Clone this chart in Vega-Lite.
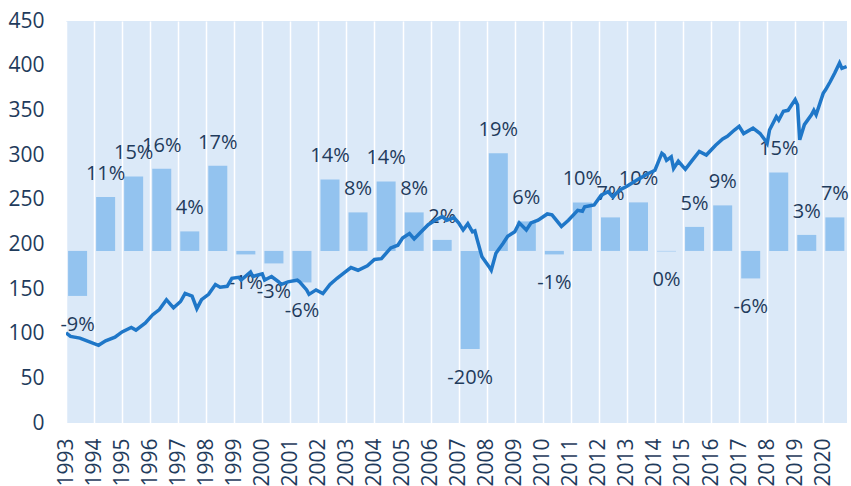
{
  "$schema": "https://vega.github.io/schema/vega-lite/v6.json",
  "autosize": {"type": "none"},
  "padding": {"left": 66, "top": 21, "right": 4, "bottom": 63},
  "width": 781,
  "height": 402,
  "background": "#ffffff",
  "config": {
    "view": {"fill": "#dbe9f8", "stroke": null},
    "axis": {"labelFont": "Open Sans", "labelFontSize": 21, "labelColor": "#1f3b5c", "domain": false, "ticks": false, "title": null},
    "text": {"font": "Open Sans", "fontSize": 20, "color": "#1f3b5c"}
  },
  "datasets": {
    "index": [
      {"date": "1993-01-01", "value": 101},
      {"date": "1993-03-01", "value": 97},
      {"date": "1993-07-01", "value": 95},
      {"date": "1993-10-01", "value": 92},
      {"date": "1994-03-01", "value": 87},
      {"date": "1994-06-01", "value": 92},
      {"date": "1994-10-01", "value": 96},
      {"date": "1995-01-01", "value": 102},
      {"date": "1995-05-01", "value": 107},
      {"date": "1995-07-01", "value": 104},
      {"date": "1995-11-01", "value": 112},
      {"date": "1996-02-01", "value": 121},
      {"date": "1996-05-01", "value": 127},
      {"date": "1996-08-01", "value": 138},
      {"date": "1996-10-01", "value": 132},
      {"date": "1996-11-01", "value": 129},
      {"date": "1997-02-01", "value": 136},
      {"date": "1997-04-01", "value": 145},
      {"date": "1997-07-01", "value": 142},
      {"date": "1997-09-01", "value": 128},
      {"date": "1997-11-01", "value": 138},
      {"date": "1998-02-01", "value": 144},
      {"date": "1998-05-01", "value": 155},
      {"date": "1998-07-01", "value": 152},
      {"date": "1998-10-01", "value": 153},
      {"date": "1998-12-01", "value": 162},
      {"date": "1999-03-01", "value": 163},
      {"date": "1999-04-01", "value": 160},
      {"date": "1999-08-01", "value": 169},
      {"date": "1999-09-01", "value": 164},
      {"date": "2000-01-01", "value": 167},
      {"date": "2000-02-01", "value": 160},
      {"date": "2000-05-01", "value": 164},
      {"date": "2000-08-01", "value": 158},
      {"date": "2000-09-01", "value": 155},
      {"date": "2000-12-01", "value": 158},
      {"date": "2001-04-01", "value": 160},
      {"date": "2001-05-01", "value": 158},
      {"date": "2001-08-01", "value": 149},
      {"date": "2001-09-01", "value": 144},
      {"date": "2001-12-01", "value": 149},
      {"date": "2002-03-01", "value": 145},
      {"date": "2002-06-01", "value": 155},
      {"date": "2002-09-01", "value": 162},
      {"date": "2002-12-01", "value": 168},
      {"date": "2003-03-01", "value": 174},
      {"date": "2003-06-01", "value": 171},
      {"date": "2003-10-01", "value": 176},
      {"date": "2004-01-01", "value": 183},
      {"date": "2004-04-01", "value": 184},
      {"date": "2004-08-01", "value": 196},
      {"date": "2004-11-01", "value": 199},
      {"date": "2005-01-01", "value": 207},
      {"date": "2005-04-01", "value": 212},
      {"date": "2005-06-01", "value": 206},
      {"date": "2005-09-01", "value": 214},
      {"date": "2005-12-01", "value": 222},
      {"date": "2006-03-01", "value": 227},
      {"date": "2006-06-01", "value": 231},
      {"date": "2006-08-01", "value": 227},
      {"date": "2006-11-01", "value": 230},
      {"date": "2007-01-01", "value": 224},
      {"date": "2007-03-01", "value": 216},
      {"date": "2007-05-01", "value": 223},
      {"date": "2007-07-01", "value": 214},
      {"date": "2007-08-01", "value": 215},
      {"date": "2007-09-01", "value": 205},
      {"date": "2007-11-01", "value": 186},
      {"date": "2008-02-01", "value": 175},
      {"date": "2008-03-01", "value": 171},
      {"date": "2008-05-01", "value": 190},
      {"date": "2008-08-01", "value": 201},
      {"date": "2008-10-01", "value": 209},
      {"date": "2009-01-01", "value": 214},
      {"date": "2009-03-01", "value": 224},
      {"date": "2009-06-01", "value": 216},
      {"date": "2009-08-01", "value": 224},
      {"date": "2009-11-01", "value": 227},
      {"date": "2010-03-01", "value": 234},
      {"date": "2010-05-01", "value": 233},
      {"date": "2010-09-01", "value": 220},
      {"date": "2010-12-01", "value": 227},
      {"date": "2011-04-01", "value": 238},
      {"date": "2011-06-01", "value": 237},
      {"date": "2011-07-01", "value": 242},
      {"date": "2011-11-01", "value": 244},
      {"date": "2012-02-01", "value": 255},
      {"date": "2012-05-01", "value": 259},
      {"date": "2012-07-01", "value": 253},
      {"date": "2012-10-01", "value": 261},
      {"date": "2013-01-01", "value": 265},
      {"date": "2013-06-01", "value": 273},
      {"date": "2013-10-01", "value": 279},
      {"date": "2014-01-01", "value": 283},
      {"date": "2014-04-01", "value": 302},
      {"date": "2014-05-01", "value": 300},
      {"date": "2014-06-01", "value": 294},
      {"date": "2014-08-01", "value": 298},
      {"date": "2014-09-01", "value": 285},
      {"date": "2014-11-01", "value": 293},
      {"date": "2015-02-01", "value": 284},
      {"date": "2015-05-01", "value": 294},
      {"date": "2015-08-01", "value": 304},
      {"date": "2015-11-01", "value": 300},
      {"date": "2016-03-01", "value": 311},
      {"date": "2016-06-01", "value": 318},
      {"date": "2016-08-01", "value": 321},
      {"date": "2016-11-01", "value": 328},
      {"date": "2017-01-01", "value": 332},
      {"date": "2017-03-01", "value": 324},
      {"date": "2017-07-01", "value": 330},
      {"date": "2017-10-01", "value": 324},
      {"date": "2017-12-01", "value": 317},
      {"date": "2018-01-01", "value": 313},
      {"date": "2018-02-01", "value": 328},
      {"date": "2018-05-01", "value": 343},
      {"date": "2018-06-01", "value": 339},
      {"date": "2018-08-01", "value": 349},
      {"date": "2018-10-01", "value": 350},
      {"date": "2019-01-01", "value": 362},
      {"date": "2019-02-01", "value": 356},
      {"date": "2019-03-01", "value": 317},
      {"date": "2019-05-01", "value": 334},
      {"date": "2019-08-01", "value": 345},
      {"date": "2019-09-01", "value": 350},
      {"date": "2019-10-01", "value": 345},
      {"date": "2020-01-01", "value": 369},
      {"date": "2020-02-01", "value": 373},
      {"date": "2020-04-01", "value": 382},
      {"date": "2020-06-01", "value": 392},
      {"date": "2020-08-01", "value": 403},
      {"date": "2020-09-01", "value": 397},
      {"date": "2020-11-01", "value": 399}
    ],
    "returns": [
      {"date": "1993-06-01", "ret": -0.090, "label": "-9%"},
      {"date": "1994-06-01", "ret": 0.108, "label": "11%"},
      {"date": "1995-06-01", "ret": 0.149, "label": "15%"},
      {"date": "1996-06-01", "ret": 0.164, "label": "16%"},
      {"date": "1997-06-01", "ret": 0.039, "label": "4%"},
      {"date": "1998-06-01", "ret": 0.170, "label": "17%"},
      {"date": "1999-06-01", "ret": -0.007, "label": "-1%"},
      {"date": "2000-06-01", "ret": -0.025, "label": "-3%"},
      {"date": "2001-06-01", "ret": -0.063, "label": "-6%"},
      {"date": "2002-06-01", "ret": 0.143, "label": "14%"},
      {"date": "2003-06-01", "ret": 0.077, "label": "8%"},
      {"date": "2004-06-01", "ret": 0.139, "label": "14%"},
      {"date": "2005-06-01", "ret": 0.077, "label": "8%"},
      {"date": "2006-06-01", "ret": 0.022, "label": "2%"},
      {"date": "2007-06-01", "ret": -0.196, "label": "-20%"},
      {"date": "2008-06-01", "ret": 0.195, "label": "19%"},
      {"date": "2009-06-01", "ret": 0.059, "label": "6%"},
      {"date": "2010-06-01", "ret": -0.007, "label": "-1%"},
      {"date": "2011-06-01", "ret": 0.097, "label": "10%"},
      {"date": "2012-06-01", "ret": 0.067, "label": "7%"},
      {"date": "2013-06-01", "ret": 0.097, "label": "10%"},
      {"date": "2014-06-01", "ret": -0.001, "label": "0%"},
      {"date": "2015-06-01", "ret": 0.048, "label": "5%"},
      {"date": "2016-06-01", "ret": 0.091, "label": "9%"},
      {"date": "2017-06-01", "ret": -0.055, "label": "-6%"},
      {"date": "2018-06-01", "ret": 0.157, "label": "15%"},
      {"date": "2019-06-01", "ret": 0.032, "label": "3%"},
      {"date": "2020-06-01", "ret": 0.067, "label": "7%"}
    ]
  },
  "layer": [
    {
      "layer": [
        {
          "data": {"name": "returns"},
          "mark": {"type": "bar", "size": 19, "color": "#93c3ef"},
          "encoding": {
            "x": {"field": "date", "type": "temporal", "scale": {"type": "utc", "domain": [{"year": 1993, "month": 1, "date": 1, "utc": true}, {"year": 2020, "month": 11, "date": 6, "utc": true}], "nice": false, "padding": 0},
              "axis": {"grid": true, "gridColor": "#ffffff", "gridWidth": 1.5, "labelAngle": 270, "labelPadding": 15, "format": "%Y", "tickCount": {"interval": "year", "step": 1}, "labelOverlap": false, "labelBound": false, "labelFlush": false}},
            "y": {"field": "ret", "type": "quantitative", "scale": {"domain": [-0.344, 0.4596], "nice": false, "zero": false}, "axis": null}
          }
        },
        {
          "data": {"name": "returns"},
          "transform": [{"filter": "datum.ret >= 0"}],
          "mark": {"type": "text", "baseline": "bottom", "align": "center", "dy": -13},
          "encoding": {
            "x": {"field": "date", "type": "temporal", "scale": {"type": "utc", "domain": [{"year": 1993, "month": 1, "date": 1, "utc": true}, {"year": 2020, "month": 11, "date": 6, "utc": true}], "nice": false, "padding": 0}},
            "y": {"field": "ret", "type": "quantitative"},
            "text": {"field": "label"}
          }
        },
        {
          "data": {"name": "returns"},
          "transform": [{"filter": "datum.ret < 0"}],
          "mark": {"type": "text", "baseline": "top", "align": "center", "dy": 19},
          "encoding": {
            "x": {"field": "date", "type": "temporal", "scale": {"type": "utc", "domain": [{"year": 1993, "month": 1, "date": 1, "utc": true}, {"year": 2020, "month": 11, "date": 6, "utc": true}], "nice": false, "padding": 0}},
            "y": {"field": "ret", "type": "quantitative"},
            "text": {"field": "label"}
          }
        }
      ]
    },
    {
      "data": {"name": "index"},
      "mark": {"type": "line", "color": "#1f77c8", "strokeWidth": 3.5, "clip": true},
      "encoding": {
        "x": {"field": "date", "type": "temporal", "scale": {"type": "utc", "domain": [{"year": 1993, "month": 1, "date": 1, "utc": true}, {"year": 2020, "month": 11, "date": 6, "utc": true}], "nice": false, "padding": 0}},
        "y": {"field": "value", "type": "quantitative", "scale": {"domain": [0, 450], "nice": false}, "axis": {"orient": "left", "values": [0, 50, 100, 150, 200, 250, 300, 350, 400, 450], "grid": false, "labelPadding": 22}}
      }
    }
  ],
  "resolve": {"scale": {"y": "independent"}}
}
